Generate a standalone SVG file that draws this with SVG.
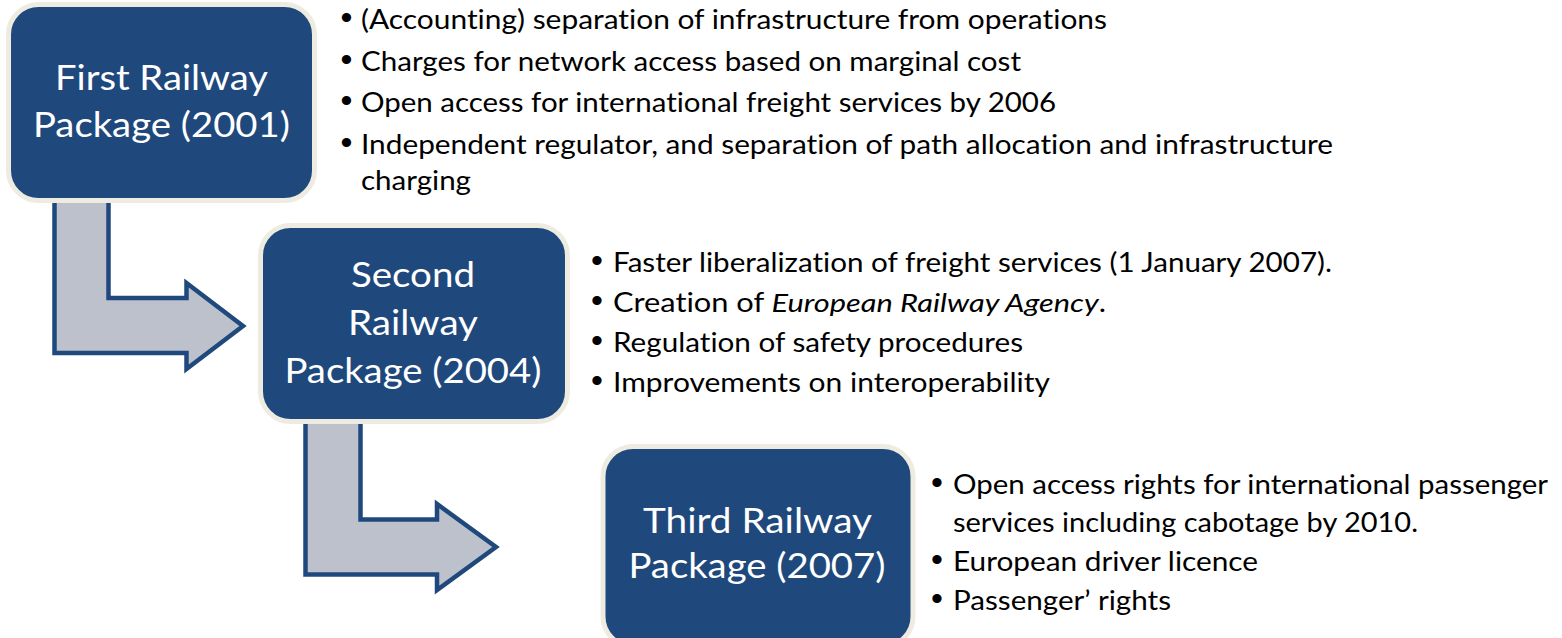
<svg xmlns="http://www.w3.org/2000/svg" width="1562" height="638" viewBox="0 0 1562 638">
<style>
.box{fill:#1F497D;stroke:#EEECE1;stroke-width:5}
.arrow{fill:#BDC1CB;stroke:#1F497D;stroke-width:4.5;stroke-linejoin:miter}
.title{font-family:Lato,"Open Sans","Liberation Sans",sans-serif;font-size:35px;fill:#FFFFFF;text-anchor:middle;font-variant-ligatures:none}
.item{font-family:Lato,"Open Sans","Liberation Sans",sans-serif;font-size:26px;fill:#000000;font-variant-ligatures:none}
.bullet{font-family:"Liberation Sans",sans-serif;font-size:34px;fill:#000000;text-anchor:middle}
</style>
<rect width="1562" height="638" fill="#FFFFFF"/>
<g id="connectors">
<path class="arrow" d="M54.5,190 L108.5,190 L108.5,298 L186.5,298 L186.5,283 L243,326 L186.5,369 L186.5,353 L54.5,353 Z"/>
<path class="arrow" d="M305.5,411 L360.5,411 L360.5,519.5 L437,519.5 L437,504 L496,547 L437,590 L437,574.5 L305.5,574.5 Z"/>
</g>
<g id="node-first">
<rect class="box" x="8.5" y="4.5" width="306" height="196" rx="30" ry="30"/>
<text class="title" x="161.5" y="90" textLength="213" lengthAdjust="spacingAndGlyphs">First Railway</text>
<text class="title" x="161.5" y="137" textLength="257" lengthAdjust="spacingAndGlyphs">Package (2001)</text>
</g>
<g id="node-second">
<rect class="box" x="260.5" y="225.5" width="307" height="196" rx="30" ry="30"/>
<text class="title" x="413" y="287" textLength="124" lengthAdjust="spacingAndGlyphs">Second</text>
<text class="title" x="413" y="335" textLength="130" lengthAdjust="spacingAndGlyphs">Railway</text>
<text class="title" x="413" y="383" textLength="257" lengthAdjust="spacingAndGlyphs">Package (2004)</text>
</g>
<g id="node-third">
<rect class="box" x="603" y="446.5" width="310" height="200" rx="30" ry="30"/>
<text class="title" x="757.5" y="533" textLength="229" lengthAdjust="spacingAndGlyphs">Third Railway</text>
<text class="title" x="757" y="578" textLength="257" lengthAdjust="spacingAndGlyphs">Package (2007)</text>
</g>
<g id="list-first">
<text class="bullet" x="346.5" y="29">•</text>
<text class="bullet" x="346.5" y="70.5">•</text>
<text class="bullet" x="346.5" y="112">•</text>
<text class="bullet" x="346.5" y="153.5">•</text>
<text class="item" x="361" y="29" textLength="746" lengthAdjust="spacingAndGlyphs">(Accounting) separation of infrastructure from operations</text>
<text class="item" x="361" y="70.5" textLength="660" lengthAdjust="spacingAndGlyphs">Charges for network access based on marginal cost</text>
<text class="item" x="361" y="112" textLength="695" lengthAdjust="spacingAndGlyphs">Open access for international freight services by 2006</text>
<text class="item" x="361" y="153.5" textLength="972" lengthAdjust="spacingAndGlyphs">Independent regulator, and separation of path allocation and infrastructure</text>
<text class="item" x="361" y="190" textLength="110" lengthAdjust="spacingAndGlyphs">charging</text>
</g>
<g id="list-second">
<text class="bullet" x="597" y="272">•</text>
<text class="bullet" x="597" y="312">•</text>
<text class="bullet" x="597" y="352">•</text>
<text class="bullet" x="597" y="392">•</text>
<text class="item" x="613" y="272" textLength="719" lengthAdjust="spacingAndGlyphs">Faster liberalization of freight services (1 January 2007).</text>
<text class="item" x="613" y="312" textLength="493" lengthAdjust="spacingAndGlyphs">Creation of <tspan font-style="italic">European Railway Agency</tspan>.</text>
<text class="item" x="613" y="352" textLength="410" lengthAdjust="spacingAndGlyphs">Regulation of safety procedures</text>
<text class="item" x="613" y="392" textLength="437" lengthAdjust="spacingAndGlyphs">Improvements on interoperability</text>
</g>
<g id="list-third">
<text class="bullet" x="937" y="494">•</text>
<text class="bullet" x="937" y="571">•</text>
<text class="bullet" x="937" y="610">•</text>
<text class="item" x="953" y="494" textLength="595" lengthAdjust="spacingAndGlyphs">Open access rights for international passenger</text>
<text class="item" x="953" y="532" textLength="465" lengthAdjust="spacingAndGlyphs">services including cabotage by 2010.</text>
<text class="item" x="953" y="571" textLength="305" lengthAdjust="spacingAndGlyphs">European driver licence</text>
<text class="item" x="953" y="610" textLength="218" lengthAdjust="spacingAndGlyphs">Passenger’ rights</text>
</g>
</svg>
